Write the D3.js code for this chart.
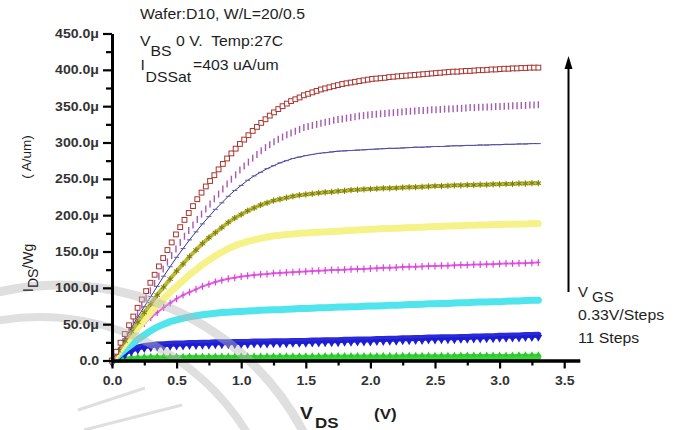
<!DOCTYPE html>
<html>
<head>
<meta charset="utf-8">
<script src="https://cdnjs.cloudflare.com/ajax/libs/d3/7.8.5/d3.min.js"></script>
<style>
    body { margin: 0; background: #fff; }
    svg { display: block; font-family: "Liberation Sans", Arial, sans-serif; }
    text { white-space: pre; }
</style>
</head>
<body>
<div id="chart"></div>
<script>
// V_DS sweep (V), 0.05 V grid
var vds = [0,0.05,0.1,0.15,0.2,0.25,0.3,0.35,0.4,0.45,
    0.5,0.55,0.6,0.65,0.7,0.75,0.8,0.85,0.9,0.95,
    1.0,1.05,1.1,1.15,1.2,1.25,1.3,1.35,1.4,1.45,
    1.5,1.55,1.6,1.65,1.7,1.75,1.8,1.85,1.9,1.95,
    2.0,2.05,2.1,2.15,2.2,2.25,2.3,2.35,2.4,2.45,
    2.5,2.55,2.6,2.65,2.7,2.75,2.8,2.85,2.9,2.95,
    3.0,3.05,3.1,3.15,3.2,3.25,3.3];

// finer V_DS grid (0.033 V) read for the two top curves
var vdsFine = [0,0.033,0.066,0.099,0.132,0.165,0.198,0.231,0.264,0.297,
    0.33,0.363,0.396,0.429,0.462,0.495,0.528,0.561,0.594,0.627,
    0.66,0.693,0.726,0.759,0.792,0.825,0.858,0.891,0.924,0.957,
    0.99,1.023,1.056,1.089,1.122,1.155,1.188,1.221,1.254,1.287,
    1.32,1.353,1.386,1.419,1.452,1.485,1.518,1.551,1.584,1.617,
    1.65,1.683,1.716,1.749,1.782,1.815,1.848,1.881,1.914,1.947,
    1.98,2.013,2.046,2.079,2.112,2.145,2.178,2.211,2.244,2.277,
    2.31,2.343,2.376,2.409,2.442,2.475,2.508,2.541,2.574,2.607,
    2.64,2.673,2.706,2.739,2.772,2.805,2.838,2.871,2.904,2.937,
    2.97,3.003,3.036,3.069,3.102,3.135,3.168,3.201,3.234,3.267,
    3.3];

// I_DS/Wg (uA/um), one array per V_GS step
var step11 = [0,12,24.5,36.5,48.5,60.5,72.5,84,95.5,107,
    118,129.5,141,152,162.5,173.5,183.5,193.5,203,212.5,
    222,231,239.5,247,255,263,270.5,278,285,291.5,
    298,304,310,316,321.5,327,332,337,341.5,346,
    350,353.5,357,359.5,362,365,367,369,371,373,
    374.5,376,377.5,379,380.5,381.5,382.5,383.5,384.5,385.5,
    386.5,387.5,388,388.5,389,390,390.5,391,391.5,392,
    392.5,393,393.5,394,394.5,395,395.5,396,396.5,397,
    397.5,397.5,398,398.5,398.5,399,399.5,399.5,400,400.5,
    400.5,401,401.5,401.5,402,402,402.5,402.5,403,403,
    403];
var step10 = [0,11,22,33,44,54.5,65.5,76,86,96,
    106,116,126,135.5,144.5,153.5,162.5,171,179,186.5,
    194,201.5,208.5,215.5,222.5,229,236,243,249.5,255.5,
    262,267.5,273,278.5,283.5,288.5,293,297,301,304.5,
    307.5,310.5,313,315.5,318,320.5,322,323.5,325,326.5,
    328,329,330.5,331.5,332.5,333.5,334.5,335.5,336.5,337,
    338,338.5,339,339.5,340,340.5,341,341.5,342,342.5,
    343,343.5,344,344,344.5,345,345,345.5,346,346,
    346.5,347,347,347.5,348,348,348.5,348.5,349,349,
    349.5,349.5,350,350,350.5,350.5,351,351,351.5,351.5,
    352];
var step9 = [0,15,30,45,60,74,88,102,116,129,
    142,154,166,177,188,198,208,217,226,234,
    241,248,254,259,264,268,272,275,278,280,
    282,283.5,285,286,287,288,288.5,289,289.5,290,
    290.5,291,291.5,292,292,292.5,293,293.5,293.5,294,
    294.5,294.5,295,295.5,295.5,296,296,296.5,296.5,297,
    297,297.5,297.5,298,298,298.5,298.5];
var step8 = [0,13.5,27,40,53,66,78,90,101,112,
    123,133,143,152,161,169,176,183,190,196,
    201,206,210,214,217,220,222,224,226,227.5,
    228.5,229.5,230.5,231.5,232,233,233.5,234.5,235,235.5,
    236,236.5,237,237,237.5,238,238.5,238.5,239,239.5,
    240,240,240.5,241,241,241.5,241.5,242,242,242.5,
    242.5,243,243,243.5,243.5,244,244];
var step7 = [0,11.5,23,34,45,56,66,76,85,94,
    102,110,118,125,132,138,144,149,154,158,
    161,164,166,168,170,171.5,172.5,173.5,174,175,
    175.5,176,176.5,177,177.5,178,178.5,179,179.5,180,
    180.5,181,181.5,181.5,182,182.5,183,183,183.5,184,
    184.5,184.5,185,185.5,185.5,186,186,186.5,186.5,187,
    187,187.5,187.5,188,188,188.5,188.5];
var step6 = [0,10.5,21,32,42,51,59,66,73,79,
    85,90,94,98,102,105,108,110.5,112.5,114,
    115.5,116.5,117.5,118.5,119,120,120.5,121,121.5,122,
    122.5,123,123.5,124,124.5,124.5,125,125.5,126,126,
    126.5,127,127.5,127.5,128,128.5,129,129,129.5,130,
    130,130.5,130.5,131,131.5,131.5,132,132,132.5,132.5,
    133,133.5,133.5,134,134,134.5,135];
var step5 = [0,7.5,15,22,29,35,41,46,50,53.5,
    56,58,60,61.5,63,64,65,66,66.5,67,
    67.5,68,68.5,69,69.5,70,70,70.5,71,71.5,
    71.5,72,72.5,72.5,73,73.5,73.5,74,74,74.5,
    75,75,75.5,76,76,76.5,77,77,77.5,78,
    78,78.5,78.5,79,79.5,79.5,80,80.5,80.5,81,
    81,81.5,82,82,82.5,83,83];
var step4 = [0,6,11,15,18,20,21,22,22.5,23,
    23.5,23.5,24,24,24.5,24.5,25,25,25,25.5,
    25.5,25.5,26,26,26,26.5,26.5,26.5,27,27,
    27,27.5,27.5,28,28,28,28.5,28.5,29,29,
    29,29.5,29.5,30,30,30.5,30.5,31,31,31.5,
    31.5,32,32,32,32.5,32.5,33,33,33.5,33.5,
    34,34,34.5,34.5,35,35,35.5];
var step3 = [0,1,1.5,2,2.5,2.8,3,3,3.1,3.1,
    3.2,3.2,3.3,3.3,3.3,3.4,3.4,3.4,3.5,3.5,
    3.5,3.6,3.6,3.6,3.7,3.7,3.7,3.8,3.8,3.8,
    3.9,3.9,3.9,4,4,4,4.1,4.1,4.1,4.2,
    4.2,4.2,4.3,4.3,4.3,4.4,4.4,4.4,4.5,4.5,
    4.5,4.6,4.6,4.6,4.7,4.7,4.7,4.8,4.8,4.8,
    4.9,4.9,4.9,5,5,5,5.1];
var step2 = [0,0.1,0.2,0.2,0.3,0.3,0.3,0.3,0.3,0.3,
    0.3,0.3,0.3,0.3,0.3,0.3,0.4,0.4,0.4,0.4,
    0.4,0.4,0.4,0.4,0.4,0.4,0.4,0.4,0.4,0.4,
    0.5,0.5,0.5,0.5,0.5,0.5,0.5,0.5,0.5,0.5,
    0.5,0.5,0.5,0.5,0.5,0.5,0.5,0.5,0.5,0.5,
    0.6,0.6,0.6,0.6,0.6,0.6,0.6,0.6,0.6,0.6,
    0.6,0.6,0.6,0.6,0.6,0.6,0.6];

var xTicks = [0, 0.5, 1, 1.5, 2, 2.5, 3, 3.5];
var xTickLabels = ['0.0', '0.5', '1.0', '1.5', '2.0', '2.5', '3.0', '3.5'];
var xMinorTicks = [0.25, 0.75, 1.25, 1.75, 2.25, 2.75, 3.25];
var yTicks = [0, 50, 100, 150, 200, 250, 300, 350, 400, 450];
var yTickLabels = ['0.0', '50.0\u03bc', '100.0\u03bc', '150.0\u03bc', '200.0\u03bc',
    '250.0\u03bc', '300.0\u03bc', '350.0\u03bc', '400.0\u03bc', '450.0\u03bc'];
var yMinorTicks = [25, 75, 125, 175, 225, 275, 325, 375, 425];

// drawing order: lowest step first so the top curve ends up on top
var curves = [
    {xs: vds,     values: step2,  color: '#d03030', width: 1.5, marker: null},
    {xs: vds,     values: step3,  color: '#3ad63a', width: 6,   marker: 'up'},
    {xs: vds,     values: step4,  color: '#2a2ad8', width: 6,   marker: 'down'},
    {xs: vds,     values: step5,  color: '#50e4ec', width: 7,   marker: null},
    {xs: vds,     values: step6,  color: '#e462e4', width: 2,   marker: 'plus'},
    {xs: vds,     values: step7,  color: '#f6f28a', width: 7,   marker: null},
    {xs: vds,     values: step8,  color: '#bcbc34', width: 4,   marker: 'star'},
    {xs: vds,     values: step9,  color: '#34349a', width: 1,   marker: 'dash'},
    {xs: vdsFine, values: step10, color: '#a55aae', width: 0,   marker: 'bar'},
    {xs: vdsFine, values: step11, color: '#a8342e', width: 0,   marker: 'square'}
];

var width = 683, height = 430, sx = 1.13;

var svg = d3.select('#chart')
    .append('svg')
    .attr('width', width)
    .attr('height', height);

var x = d3.scaleLinear().domain([0, 3.62]).range([112, 579.7]);
var y = d3.scaleLinear().domain([0, 450]).range([360.5, 33.5]);

var line = d3.line()
    .x(function(d) { return x(d[0]); })
    .y(function(d) { return y(d[1]); });

var plot = svg.append('g');

curves.forEach(function(c) {
    var pts = c.xs.map(function(v, i) { return [v, c.values[i]]; });

    if (c.width > 0) {
        plot.append('path')
            .datum(pts)
            .attr('d', line)
            .attr('fill', 'none')
            .attr('stroke', c.color)
            .attr('stroke-width', c.width)
            .attr('stroke-linejoin', 'round')
            .attr('stroke-linecap', 'round');
    }

    var m = plot.append('g').selectAll('g')
        .data(pts)
        .enter().append('g')
        .attr('transform', function(d) { return 'translate(' + x(d[0]) + ',' + y(d[1]) + ')'; });

    if (c.marker === 'square') {
        m.append('rect')
            .attr('x', -2.4).attr('y', -2.4)
            .attr('width', 4.8).attr('height', 4.8)
            .attr('fill', '#fff')
            .attr('stroke', c.color)
            .attr('stroke-width', 1);
    } else if (c.marker === 'bar') {
        m.append('line')
            .attr('y1', -3.5).attr('y2', 3.5)
            .attr('stroke', c.color)
            .attr('stroke-width', 1.4);
    } else if (c.marker === 'dash') {
        m.append('line')
            .attr('x1', -2.5).attr('x2', 2.5)
            .attr('stroke', '#5a5aa8')
            .attr('stroke-width', 1);
    } else if (c.marker === 'star') {
        m.append('path')
            .attr('d', d3.symbol().type(d3.symbolAsterisk).size(28))
            .attr('fill', 'none')
            .attr('stroke', '#7c7c14')
            .attr('stroke-width', 1);
    } else if (c.marker === 'plus') {
        m.append('line')
            .attr('y1', -3.5).attr('y2', 3.5)
            .attr('stroke', '#d848d8')
            .attr('stroke-width', 1.2);
        m.append('line')
            .attr('x1', -2).attr('x2', 2)
            .attr('stroke', '#d848d8')
            .attr('stroke-width', 1.2);
    } else if (c.marker === 'down') {
        m.append('path')
            .attr('d', d3.symbol().type(d3.symbolTriangle).size(26))
            .attr('transform', 'translate(0,2.5) rotate(180)')
            .attr('fill', '#1c1cd0');
    } else if (c.marker === 'up') {
        m.append('path')
            .attr('d', d3.symbol().type(d3.symbolTriangle).size(16))
            .attr('transform', 'translate(0,-2)')
            .attr('fill', '#2ec82e');
    }
});

// faint watermark arcs over the plot
var wm = svg.append('g')
    .attr('fill', 'none')
    .attr('stroke', '#b8b8b8')
    .attr('stroke-opacity', 0.45);
var arc1 = d3.path();
arc1.arc(60, 560, 275, -108 * Math.PI / 180, -25 * Math.PI / 180);
wm.append('path').attr('d', arc1.toString()).attr('stroke-width', 9);
var arc2 = d3.path();
arc2.arc(40, 560, 243, -102 * Math.PI / 180, -30 * Math.PI / 180);
wm.append('path').attr('d', arc2.toString()).attr('stroke-width', 8);
var ray1 = d3.path();
ray1.moveTo(78, 410); ray1.lineTo(145, 388);
wm.append('path').attr('d', ray1.toString()).attr('stroke-width', 3);
var ray2 = d3.path();
ray2.moveTo(84, 430); ray2.lineTo(182, 405);
wm.append('path').attr('d', ray2.toString()).attr('stroke-width', 3);

// axes
var xAxis = d3.axisBottom(x)
    .tickValues(xTicks)
    .tickFormat(function(d, i) { return xTickLabels[i]; })
    .tickSize(8)
    .tickSizeOuter(0)
    .tickPadding(8);
var xMinor = d3.axisBottom(x).tickValues(xMinorTicks).tickFormat('').tickSize(5).tickSizeOuter(0);

var yAxis = d3.axisLeft(y)
    .tickValues(yTicks)
    .tickFormat(function(d, i) { return yTickLabels[i]; })
    .tickSize(9)
    .tickSizeOuter(0)
    .tickPadding(4);
var yMinor = d3.axisLeft(y).tickValues(yMinorTicks).tickFormat('').tickSize(6).tickSizeOuter(0);

var gx = svg.append('g').attr('transform', 'translate(0,' + y(0) + ')').call(xAxis);
svg.append('g').attr('transform', 'translate(0,' + y(0) + ')').call(xMinor);
var gy = svg.append('g').attr('transform', 'translate(' + x(0) + ',0)').call(yAxis);
svg.append('g').attr('transform', 'translate(' + x(0) + ',0)').call(yMinor);

svg.selectAll('.domain').attr('stroke', '#000').attr('stroke-width', 3);
svg.selectAll('.tick line').attr('stroke', '#000').attr('stroke-width', 2.2);
svg.selectAll('.tick text')
    .attr('fill', '#333')
    .style('font-size', '12.5px')
    .style('font-weight', 'bold')
    .style('font-family', '"Liberation Sans", Arial, sans-serif');
gx.selectAll('.tick text').attr('transform', 'scale(' + sx + ',1)');
gy.selectAll('.tick text')
    .attr('x', -13 / sx)
    .attr('transform', 'scale(' + sx + ',1)');

// text helpers
function label(px, py, str, size, weight) {
    return svg.append('text')
        .attr('transform', 'translate(' + px + ',' + py + ') scale(' + sx + ',1)')
        .attr('fill', '#1e1e1e')
        .style('font-size', size + 'px')
        .style('font-weight', weight || 'normal')
        .text(str);
}

label(140, 19, 'Wafer:D10, W/L=20/0.5', 14);
label(140, 45.5, 'V', 14);
label(150.5, 56, 'BS', 14);
label(176, 45.5, '0 V.  Temp:27C', 14);
label(140.5, 70, 'I', 14);
label(145.5, 81.5, 'DSSat', 14);
label(193, 70, '=403 uA/um', 14);

// x title
label(300, 419, 'V', 17, 'bold');
label(315, 428, 'DS', 15, 'bold');
label(374, 419, '(V)', 15, 'bold');

// y title (rotated)
svg.append('text')
    .attr('transform', 'translate(31,157) rotate(-90)')
    .attr('text-anchor', 'middle')
    .attr('fill', '#1e1e1e')
    .style('font-size', '13.5px')
    .text('( A/um)');

var yt = svg.append('text')
    .attr('transform', 'translate(33,292) rotate(-90)')
    .attr('fill', '#1e1e1e')
    .style('font-size', '14px');
yt.append('tspan').text('I');
yt.append('tspan').attr('dy', 5).text('DS');
yt.append('tspan').attr('dy', -5).text('/Wg');

// V_GS arrow
var arrow = d3.path();
arrow.moveTo(568.5, 292);
arrow.lineTo(568.5, 66);
svg.append('path').attr('d', arrow.toString()).attr('stroke', '#000').attr('stroke-width', 2);
var head = d3.path();
head.moveTo(568.5, 56);
head.lineTo(572.5, 69);
head.lineTo(564.5, 69);
head.closePath();
svg.append('path').attr('d', head.toString()).attr('fill', '#000');

svg.append('text').attr('x', 578).attr('y', 296.5).attr('fill', '#1e1e1e').style('font-size', '15px').text('V');
svg.append('text').attr('x', 592).attr('y', 301.5).attr('fill', '#1e1e1e').style('font-size', '15px').text('GS');
label(578, 320, '0.33V/Steps', 14);
label(578, 343, '11 Steps', 14);
</script>
</body>
</html>
